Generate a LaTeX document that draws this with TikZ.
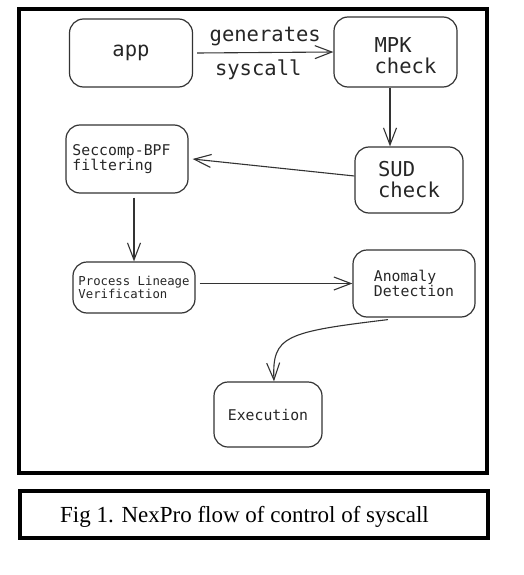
\documentclass[tikz,border=0pt]{standalone}
\usepackage{fontspec}
\setmainfont{Liberation Serif}
\setmonofont{DejaVu Sans Mono}
\usepackage{tikz}
\usetikzlibrary{positioning}
\usetikzlibrary{arrows.meta}
\usetikzlibrary{calc}

\begin{document}
\begin{tikzpicture}[x=1pt,y=-1pt,
  box/.style={draw=black!80, rounded corners=14pt, line width=1.2pt,
    text=black!85, align=left, inner sep=0pt},
  flow/.style={draw=black!80, line width=1.1pt,
    -{Straight Barb[length=17pt,width=13pt]}},
  huge/.style={font=\ttfamily\fontsize{20.5}{21}\selectfont},
  mid/.style={font=\ttfamily\fontsize{14.8}{14}\selectfont},
  small/.style={font=\ttfamily\fontsize{12.3}{11}\selectfont},
  frame/.style={line width=4pt}
]

  % page size of the reference
  \useasboundingbox (0,0) rectangle (524,575);

  % outer frame and caption frame
  \draw[frame] (19.3,9.3) rectangle (487,472.5);
  \draw[frame] (20,491.3) rectangle (488,538);
  \node[anchor=base, font=\fontsize{23}{27}\selectfont] (caption) at (244.5,522.5)
    {Fig 1. NexPro flow of control of syscall};

  % boxes of the flow
  \node[box, huge, minimum width=123pt, minimum height=68pt] (app) at (131,53) {app};
  \node[box, minimum width=123pt, minimum height=70pt,
    label={[huge, align=left, text=black!85, xshift=10pt, yshift=-4pt]center:{MPK\\check}}]
    (mpk) at (395.5,52) {};
  \node[box, huge, minimum width=108pt, minimum height=66pt] (sud) at (409,180) {SUD\\check};
  \node[box, mid, minimum width=122pt, minimum height=68pt, xshift=0pt] (seccomp) at (127,159)
    {\hspace*{-11pt}Seccomp-BPF\\\hspace*{-11pt}filtering};
  \node[box, small, minimum width=122pt, minimum height=51pt] (process) at (134,287.5)
    {Process Lineage\\Verification};
  \node[box, mid, minimum width=122pt, minimum height=67pt] (anomaly) at (414,283.5)
    {Anomaly\\Detection};
  \node[box, mid, minimum width=108pt, minimum height=65pt] (execution) at (268,414.5)
    {Execution};

  % connectors
  \draw[flow] ([xshift=4pt]app.east) -- (mpk.west)
    node[huge, text=black!85, midway, above=3pt] (gen) {generates}
    node[huge, text=black!85, midway, below=3pt, xshift=-7pt] (sys) {syscall};
  \draw[flow] ([xshift=-5.5pt]mpk.south) -- ([xshift=-5.5pt]mpk.south |- sud.north);
  \draw[flow] ([yshift=4pt]sud.west) -- ([xshift=4pt]seccomp.east);
  \draw[flow] ([yshift=-4pt]seccomp.south -| process.north) -- (process.north);
  \draw[flow] ([xshift=4pt]process.east |- anomaly.west) -- (anomaly.west);
  \draw[flow] ([xshift=-26pt,yshift=-2pt]anomaly.south)
    .. controls (285,332) and (272,336) .. ([xshift=6pt]execution.north);

\end{tikzpicture}
\end{document}
